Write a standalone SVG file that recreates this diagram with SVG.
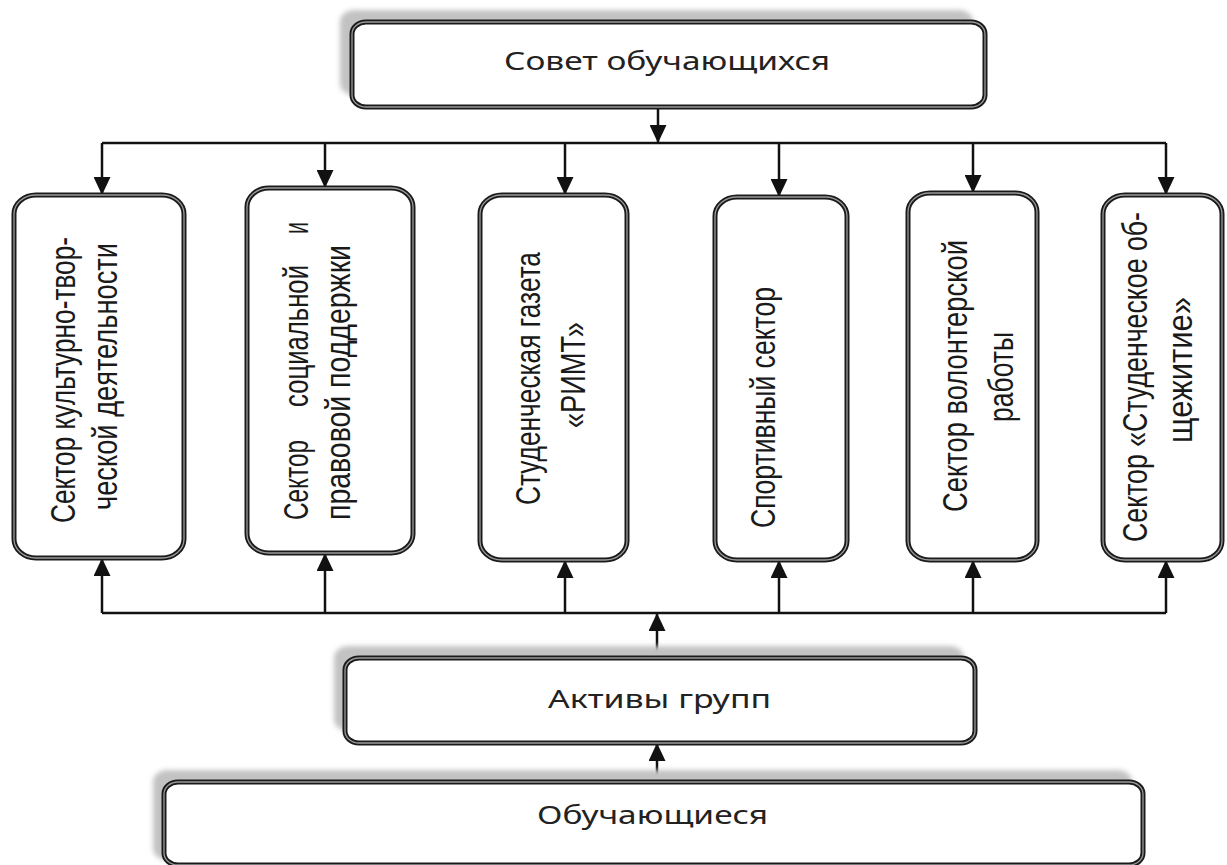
<svg xmlns="http://www.w3.org/2000/svg" width="1227" height="865" viewBox="0 0 1227 865">
  <defs>
    <filter id="blur" x="-5%" y="-20%" width="110%" height="140%">
      <feGaussianBlur stdDeviation="2.5"/>
    </filter>
    <marker id="ah" viewBox="0 0 18 17" refX="18" refY="8.5" markerWidth="18" markerHeight="17" markerUnits="userSpaceOnUse" orient="auto">
      <path d="M0,0 L18,8.5 L0,17 Z" fill="#111"/>
    </marker>
    <style>
      .box { fill: #fff; stroke: #1a1a1a; stroke-width: 5; }
      .inner { fill: none; stroke: #9a9a9a; stroke-width: 1.3; }
      .shadow { fill: #c2c2c2; filter: url(#blur); }
      .ht { font-family: "Noto Sans", "Open Sans", sans-serif; font-size: 25px; fill: #222; }
      .vt { font-family: "Liberation Sans", Arial, sans-serif; font-size: 35px; fill: #1a1a1a; }
      .ln { fill: none; stroke: #111; stroke-width: 2.5; }
      .ar { fill: none; stroke: #111; stroke-width: 2.5; marker-end: url(#ah); }
    </style>
  </defs>
  <rect width="1227" height="865" fill="#fff"/>

  <g id="connectors">
    <path class="ar" d="M658,107 V143"/>
    <path class="ln" d="M102,143 H1166"/>
    <path class="ar" d="M102,143 V195"/>
    <path class="ar" d="M325,143 V188"/>
    <path class="ar" d="M565,143 V195"/>
    <path class="ar" d="M779,143 V197"/>
    <path class="ar" d="M973,143 V193"/>
    <path class="ar" d="M1166,143 V195"/>
    <path class="ln" d="M102,613 H1166"/>
    <path class="ar" d="M102,613 V558"/>
    <path class="ar" d="M325,613 V553"/>
    <path class="ar" d="M565,613 V560"/>
    <path class="ar" d="M779,613 V560"/>
    <path class="ar" d="M973,613 V560"/>
    <path class="ar" d="M1166,613 V560"/>
    <path class="ar" d="M657,658 V613"/>
    <path class="ar" d="M657,782 V743"/>
  </g>

  <g id="sovet">
    <rect class="shadow" x="340" y="10" width="633" height="85" rx="14" ry="12"/>
    <rect class="box" x="352" y="22" width="633" height="85" rx="14" ry="12"/>
    <rect class="inner" x="352" y="22" width="633" height="85" rx="14" ry="12"/>
    <text class="ht" x="504" y="70" textLength="326" lengthAdjust="spacingAndGlyphs">Совет обучающихся</text>
  </g>

  <g id="sector1">
    <rect class="box" x="14" y="195" width="170" height="363" rx="22" ry="19"/>
    <rect class="inner" x="14" y="195" width="170" height="363" rx="22" ry="19"/>
    <text class="vt" transform="translate(75,523) rotate(-90)" textLength="286" lengthAdjust="spacingAndGlyphs">Сектор культурно-твор-</text>
    <text class="vt" transform="translate(117,510) rotate(-90)" textLength="267" lengthAdjust="spacingAndGlyphs">ческой деятельности</text>
  </g>

  <g id="sector2">
    <rect class="box" x="247" y="188" width="166" height="365" rx="22" ry="19"/>
    <rect class="inner" x="247" y="188" width="166" height="365" rx="22" ry="19"/>
    <text class="vt" transform="translate(308,520) rotate(-90)" textLength="80" lengthAdjust="spacingAndGlyphs">Сектор</text>
    <text class="vt" transform="translate(308,407) rotate(-90)" textLength="142" lengthAdjust="spacingAndGlyphs">социальной</text>
    <text class="vt" transform="translate(308,234) rotate(-90)" textLength="12" lengthAdjust="spacingAndGlyphs">и</text>
    <text class="vt" transform="translate(350,520) rotate(-90)" textLength="275" lengthAdjust="spacingAndGlyphs">правовой поддержки</text>
  </g>

  <g id="sector3">
    <rect class="box" x="480" y="195" width="147" height="365" rx="22" ry="19"/>
    <rect class="inner" x="480" y="195" width="147" height="365" rx="22" ry="19"/>
    <text class="vt" transform="translate(540,505) rotate(-90)" textLength="253" lengthAdjust="spacingAndGlyphs">Студенческая газета</text>
    <text class="vt" transform="translate(585,428) rotate(-90)" textLength="106" lengthAdjust="spacingAndGlyphs">«РИМТ»</text>
  </g>

  <g id="sector4">
    <rect class="box" x="715" y="197" width="132" height="363" rx="22" ry="19"/>
    <rect class="inner" x="715" y="197" width="132" height="363" rx="22" ry="19"/>
    <text class="vt" transform="translate(775,528) rotate(-90)" textLength="241" lengthAdjust="spacingAndGlyphs">Спортивный сектор</text>
  </g>

  <g id="sector5">
    <rect class="box" x="908" y="193" width="129" height="367" rx="22" ry="19"/>
    <rect class="inner" x="908" y="193" width="129" height="367" rx="22" ry="19"/>
    <text class="vt" transform="translate(967,512) rotate(-90)" textLength="272" lengthAdjust="spacingAndGlyphs">Сектор волонтерской</text>
    <text class="vt" transform="translate(1013,422) rotate(-90)" textLength="90" lengthAdjust="spacingAndGlyphs">работы</text>
  </g>

  <g id="sector6">
    <rect class="box" x="1103" y="195" width="119" height="365" rx="22" ry="19"/>
    <rect class="inner" x="1103" y="195" width="119" height="365" rx="22" ry="19"/>
    <text class="vt" transform="translate(1147,542) rotate(-90)" textLength="330" lengthAdjust="spacingAndGlyphs">Сектор «Студенческое об-</text>
    <text class="vt" transform="translate(1192,443) rotate(-90)" textLength="146" lengthAdjust="spacingAndGlyphs">щежитие»</text>
  </g>

  <g id="aktivy">
    <rect class="shadow" x="334" y="646" width="630" height="85" rx="14" ry="12"/>
    <rect class="box" x="345" y="658" width="630" height="85" rx="14" ry="12"/>
    <rect class="inner" x="345" y="658" width="630" height="85" rx="14" ry="12"/>
    <text class="ht" x="548" y="708" textLength="223" lengthAdjust="spacingAndGlyphs">Активы групп</text>
  </g>

  <g id="obuch">
    <rect class="shadow" x="153" y="770" width="979" height="90" rx="14" ry="12"/>
    <rect class="box" x="164" y="782" width="979" height="83" rx="14" ry="12"/>
    <rect class="inner" x="164" y="782" width="979" height="83" rx="14" ry="12"/>
    <text class="ht" x="537" y="824" textLength="231" lengthAdjust="spacingAndGlyphs">Обучающиеся</text>
  </g>
</svg>
